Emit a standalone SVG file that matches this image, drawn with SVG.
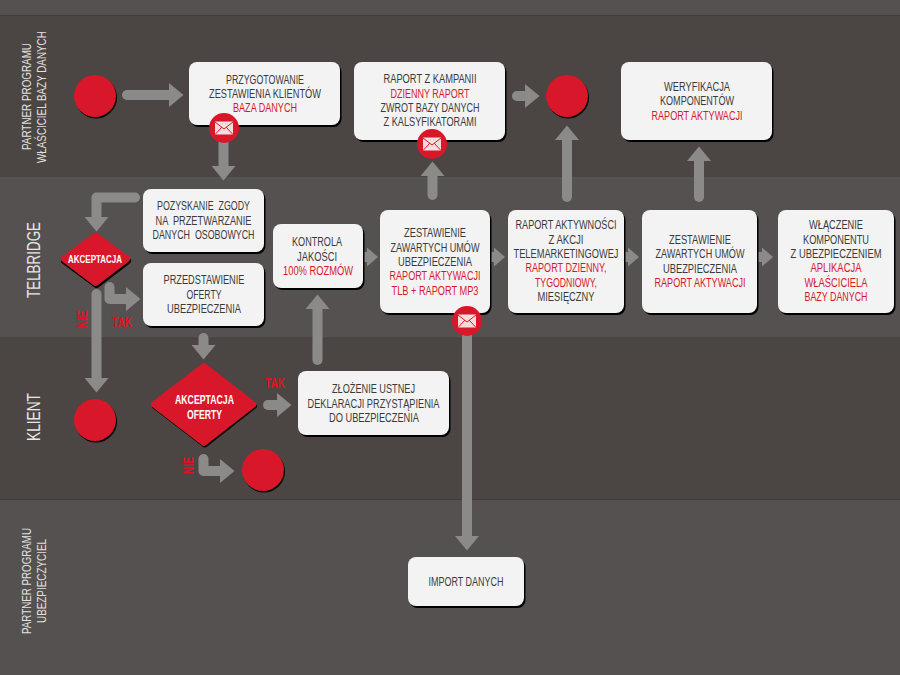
<svg xmlns="http://www.w3.org/2000/svg" xmlns:xlink="http://www.w3.org/1999/xlink" width="900" height="675" viewBox="0 0 900 675">
<style>
text{font-family:"Liberation Sans",Arial,sans-serif;text-anchor:middle}
.t{font-size:12.5px;fill:#3b3a3a}
.r{font-size:12.5px;fill:#d8182a}
.w{font-size:12.5px;fill:#fff;font-weight:700}
.l{font-size:13.5px;fill:#e2e0df;text-anchor:start}
.L{font-size:18.5px;fill:#e8e6e5;text-anchor:start}
.y{font-size:14.5px;fill:#e3101f;font-weight:700}
.b{fill:#f3f3f4}
.s{fill:#000}
.c{fill:#d8182a}
.a{fill:none;stroke:#8c8a89;stroke-width:10;stroke-linecap:round;stroke-linejoin:round}
.f{fill:#8c8a89}
.d{stroke:#d8182a;stroke-width:6;stroke-linejoin:round;fill:#d8182a}
.ds{stroke:#000;stroke-width:6;stroke-linejoin:round;fill:#000}
.e{fill:#f8dcdc}
.el{fill:none;stroke:#d8182a;stroke-width:1}
</style>
<defs>
<marker id="h" markerUnits="userSpaceOnUse" markerWidth="16" markerHeight="24" refX="0" refY="12" orient="auto"><path class="f" d="M0 0L14.500 12L0 24Z"/></marker>
<marker id="m" markerUnits="userSpaceOnUse" markerWidth="14" markerHeight="20" refX="0" refY="10" orient="auto"><path class="f" d="M0 0.500L11 10L0 19.500Z"/></marker>
<g id="env"><path class="e" d="M-9-6.500H9V6.500H-9Z"/><path class="el" d="M-9-6L0 1L9-6M-9 6.500L-2-1M9 6.500L2-1"/></g>
</defs>
<rect width="900" height="675" fill="#545150"/>
<g id="bands">
<rect y="0" width="900" height="15" fill="#545150"/>
<rect y="15" width="900" height="1.500" fill="#403c3a"/>
<rect y="16.500" width="900" height="161" fill="#4b4644"/>
<rect y="177.500" width="900" height="1" fill="#5d5a59"/>
<rect y="338" width="900" height="161" fill="#4b4644"/>
<rect y="337.500" width="900" height="1" fill="#444140"/>
<rect y="499" width="900" height="1" fill="#403d3b"/>
</g>
<g id="lanes">
<text class="l" transform="translate(31 150) rotate(-90)" textLength="107" lengthAdjust="spacingAndGlyphs">PARTNER PROGRAMU</text>
<text class="l" transform="translate(46 163) rotate(-90) scale(.78 1)" textLength="169" lengthAdjust="spacingAndGlyphs">WŁAŚCICIEL BAZY DANYCH</text>
<text class="L" transform="translate(40 298) rotate(-90)" textLength="76" lengthAdjust="spacingAndGlyphs">TELBRIDGE</text>
<text class="L" transform="translate(40 441) rotate(-90)" textLength="48" lengthAdjust="spacingAndGlyphs">KLIENT</text>
<text class="l" transform="translate(31 634) rotate(-90)" textLength="106" lengthAdjust="spacingAndGlyphs">PARTNER PROGRAMU</text>
<text class="l" transform="translate(46 623) rotate(-90)" textLength="84" lengthAdjust="spacingAndGlyphs">UBEZPIECZYCIEL</text>
</g>
<g id="connectors">
<path class="a" d="M127 95H169" marker-end="url(#h)"/>
<path class="a" stroke-linecap="butt" d="M223.500 140V166" marker-end="url(#h)"/>
<path class="a" d="M135 197.500H96.500V217" marker-end="url(#h)"/>
<path class="a" d="M96.500 294V378" marker-end="url(#h)"/>
<path class="a" d="M109.500 287V299H126" marker-end="url(#h)"/>
<path class="a" d="M203.500 338V345" marker-end="url(#h)"/>
<path class="a" d="M268 405H277" marker-end="url(#h)"/>
<path class="a" d="M203.500 459V471H220" marker-end="url(#h)"/>
<path class="a" d="M317.500 360V309" marker-end="url(#h)"/>
<path class="a" d="M432.500 195V176" marker-end="url(#h)"/>
<path class="a" d="M567 197V140" marker-end="url(#h)"/>
<path class="a" d="M517 96H525" marker-end="url(#h)"/>
<path class="a" d="M699 197V161" marker-end="url(#h)"/>
<path class="a" stroke-linecap="butt" d="M467 325V536" marker-end="url(#h)"/>
<path class="a" stroke-linecap="butt" d="M364 257H367" marker-end="url(#m)"/>
<path class="a" stroke-linecap="butt" d="M491 257H494" marker-end="url(#m)"/>
<path class="a" stroke-linecap="butt" d="M625 257H628" marker-end="url(#m)"/>
<path class="a" stroke-linecap="butt" d="M759 257H762" marker-end="url(#m)"/>
</g>
<g id="labels">
<text class="y" transform="translate(86.500 319) rotate(-90)" textLength="18" lengthAdjust="spacingAndGlyphs">NIE</text>
<text class="y" x="122" y="327" textLength="20" lengthAdjust="spacingAndGlyphs">TAK</text>
<text class="y" transform="translate(193 465.500) rotate(-90)" textLength="17" lengthAdjust="spacingAndGlyphs">NIE</text>
<text class="y" x="275" y="388" textLength="20" lengthAdjust="spacingAndGlyphs">TAK</text>
</g>
<g id="start1"><circle class="s" cx="96" cy="97.500" r="21"/><circle class="c" cx="95" cy="96" r="21"/></g>
<g id="n-przygotowanie"><rect class="s" x="190.500" y="64" width="151" height="63" rx="8"/><rect class="b" x="189" y="62" width="151" height="63" rx="8"/>
<text class="t" x="265" y="83.500" textLength="78" lengthAdjust="spacingAndGlyphs">PRZYGOTOWANIE</text>
<text class="t" x="265" y="98" textLength="112" lengthAdjust="spacingAndGlyphs">ZESTAWIENIA KLIENTÓW</text>
<text class="r" x="265" y="112" textLength="64" lengthAdjust="spacingAndGlyphs">BAZA DANYCH</text></g>
<g id="n-raport-kampanii"><rect class="s" x="355.500" y="64" width="151" height="78" rx="8"/><rect class="b" x="354" y="62" width="151" height="78" rx="8"/>
<text class="t" x="430" y="83" textLength="93" lengthAdjust="spacingAndGlyphs">RAPORT Z KAMPANII</text>
<text class="r" x="430" y="98" textLength="79" lengthAdjust="spacingAndGlyphs">DZIENNY RAPORT</text>
<text class="t" x="430" y="112" textLength="99" lengthAdjust="spacingAndGlyphs">ZWROT BAZY DANYCH</text>
<text class="t" x="430" y="126" textLength="93" lengthAdjust="spacingAndGlyphs">Z KALSYFIKATORAMI</text></g>
<g id="end1"><circle class="s" cx="568" cy="97.500" r="21"/><circle class="c" cx="567" cy="96" r="21"/></g>
<g id="n-weryfikacja"><rect class="s" x="622.500" y="64" width="151" height="78" rx="8"/><rect class="b" x="621" y="62" width="151" height="78" rx="8"/>
<text class="t" x="697" y="91" textLength="66" lengthAdjust="spacingAndGlyphs">WERYFIKACJA</text>
<text class="t" x="697" y="105" textLength="74" lengthAdjust="spacingAndGlyphs">KOMPONENTÓW</text>
<text class="r" x="697" y="120" textLength="91" lengthAdjust="spacingAndGlyphs">RAPORT AKTYWACJI</text></g>
<g id="n-pozyskanie"><rect class="s" x="144.500" y="191" width="121" height="63" rx="8"/><rect class="b" x="143" y="189" width="121" height="63" rx="8"/>
<text class="t" x="203.500" y="210" textLength="93" lengthAdjust="spacingAndGlyphs" xml:space="preserve">POZYSKANIE  ZGODY</text>
<text class="t" x="203.500" y="225" textLength="96" lengthAdjust="spacingAndGlyphs" xml:space="preserve">NA  PRZETWARZANIE</text>
<text class="t" x="203.500" y="239" textLength="102" lengthAdjust="spacingAndGlyphs" xml:space="preserve">DANYCH  OSOBOWYCH</text></g>
<g id="n-akceptacja"><path class="ds" d="M96.500 237L128 261L96.500 285L64 261Z"/><path class="d" d="M95.500 235.500L127 259L95.500 283L64 259Z"/>
<text class="w" x="95" y="263" style="font-size:11px" textLength="54" lengthAdjust="spacingAndGlyphs">AKCEPTACJA</text></g>
<g id="n-przedstawienie"><rect class="s" x="144.500" y="265" width="121" height="63" rx="8"/><rect class="b" x="143" y="263" width="121" height="63" rx="8"/>
<text class="t" x="204" y="284" textLength="81" lengthAdjust="spacingAndGlyphs">PRZEDSTAWIENIE</text>
<text class="t" x="204" y="298.500" textLength="35" lengthAdjust="spacingAndGlyphs">OFERTY</text>
<text class="t" x="204" y="313" textLength="74" lengthAdjust="spacingAndGlyphs">UBEZPIECZENIA</text></g>
<g id="n-kontrola"><rect class="s" x="274.500" y="226" width="90" height="64" rx="8"/><rect class="b" x="273" y="224" width="90" height="64" rx="8"/>
<text class="t" x="317" y="246" textLength="50" lengthAdjust="spacingAndGlyphs">KONTROLA</text>
<text class="t" x="317" y="260.500" textLength="40" lengthAdjust="spacingAndGlyphs">JAKOŚCI</text>
<text class="r" x="318" y="275" textLength="70" lengthAdjust="spacingAndGlyphs">100% ROZMÓW</text></g>
<g id="n-zestawienie1"><rect class="s" x="381.500" y="212" width="110" height="103" rx="8"/><rect class="b" x="380" y="210" width="110" height="103" rx="8"/>
<text class="t" x="435" y="237" textLength="62" lengthAdjust="spacingAndGlyphs">ZESTAWIENIE</text>
<text class="t" x="435" y="252" textLength="89" lengthAdjust="spacingAndGlyphs">ZAWARTYCH UMÓW</text>
<text class="t" x="435" y="266" textLength="74" lengthAdjust="spacingAndGlyphs">UBEZPIECZENIA</text>
<text class="r" x="435" y="280" textLength="91" lengthAdjust="spacingAndGlyphs">RAPORT AKTYWACJI</text>
<text class="r" x="435" y="295" textLength="87" lengthAdjust="spacingAndGlyphs">TLB + RAPORT MP3</text></g>
<g id="n-raport-aktywnosci"><rect class="s" x="509.500" y="212" width="116" height="103" rx="8"/><rect class="b" x="508" y="210" width="116" height="103" rx="8"/>
<text class="t" x="566" y="229" textLength="101" lengthAdjust="spacingAndGlyphs">RAPORT AKTYWNOŚCI</text>
<text class="t" x="566" y="244" textLength="35" lengthAdjust="spacingAndGlyphs">Z AKCJI</text>
<text class="t" x="566" y="258" textLength="105" lengthAdjust="spacingAndGlyphs">TELEMARKETINGOWEJ</text>
<text class="r" x="566" y="272" textLength="81" lengthAdjust="spacingAndGlyphs">RAPORT DZIENNY,</text>
<text class="r" x="566" y="287" textLength="62" lengthAdjust="spacingAndGlyphs">TYGODNIOWY,</text>
<text class="t" x="566" y="301" textLength="57" lengthAdjust="spacingAndGlyphs">MIESIĘCZNY</text></g>
<g id="n-zestawienie2"><rect class="s" x="643.500" y="212" width="115" height="103" rx="8"/><rect class="b" x="642" y="210" width="115" height="103" rx="8"/>
<text class="t" x="700" y="244" textLength="62" lengthAdjust="spacingAndGlyphs">ZESTAWIENIE</text>
<text class="t" x="700" y="258" textLength="89" lengthAdjust="spacingAndGlyphs">ZAWARTYCH UMÓW</text>
<text class="t" x="700" y="273" textLength="74" lengthAdjust="spacingAndGlyphs">UBEZPIECZENIA</text>
<text class="r" x="700" y="287" textLength="91" lengthAdjust="spacingAndGlyphs">RAPORT AKTYWACJI</text></g>
<g id="n-wlaczenie"><rect class="s" x="779.500" y="212" width="116" height="103" rx="8"/><rect class="b" x="778" y="210" width="116" height="103" rx="8"/>
<text class="t" x="836" y="229" textLength="54" lengthAdjust="spacingAndGlyphs">WŁĄCZENIE</text>
<text class="t" x="836" y="244" textLength="66" lengthAdjust="spacingAndGlyphs">KOMPONENTU</text>
<text class="t" transform="translate(836 258) scale(.75 1)" textLength="121.300" lengthAdjust="spacingAndGlyphs">Z UBEZPIECZENIEM</text>
<text class="r" x="836" y="272" textLength="51" lengthAdjust="spacingAndGlyphs">APLIKACJA</text>
<text class="r" x="836" y="287" textLength="63" lengthAdjust="spacingAndGlyphs">WŁAŚCICIELA</text>
<text class="r" x="836" y="301" textLength="63" lengthAdjust="spacingAndGlyphs">BAZY DANYCH</text></g>
<g id="end2"><circle class="s" cx="96" cy="421.500" r="21"/><circle class="c" cx="95" cy="420" r="21"/></g>
<g id="n-akceptacja-oferty"><path class="ds" d="M205 367.500L254 406L205 444.500L155 406Z"/><path class="d" d="M204 366L253.500 404.500L204 443L154 404.500Z"/>
<text class="w" x="204.500" y="404" textLength="59" lengthAdjust="spacingAndGlyphs">AKCEPTACJA</text>
<text class="w" x="204.500" y="419" textLength="35" lengthAdjust="spacingAndGlyphs">OFERTY</text></g>
<g id="end3"><circle class="s" cx="264" cy="471.500" r="21"/><circle class="c" cx="263" cy="470" r="21"/></g>
<g id="n-zlozenie"><rect class="s" x="299.500" y="373" width="151" height="64" rx="8"/><rect class="b" x="298" y="371" width="151" height="64" rx="8"/>
<text class="t" x="373.500" y="393" textLength="83" lengthAdjust="spacingAndGlyphs">ZŁOŻENIE USTNEJ</text>
<text class="t" x="373.500" y="408" textLength="132" lengthAdjust="spacingAndGlyphs">DEKLARACJI PRZYSTĄPIENIA</text>
<text class="t" x="374" y="422" textLength="90" lengthAdjust="spacingAndGlyphs">DO UBEZPIECZENIA</text></g>
<g id="n-import"><rect class="s" x="409.500" y="559" width="116" height="49" rx="8"/><rect class="b" x="408" y="557" width="116" height="49" rx="8"/>
<text class="t" x="466" y="586" textLength="75" lengthAdjust="spacingAndGlyphs">IMPORT DANYCH</text></g>
<g id="mail1"><circle class="c" cx="224" cy="128" r="15"/><use xlink:href="#env" href="#env" x="224" y="128"/></g>
<g id="mail2"><circle class="c" cx="432" cy="144" r="15"/><use xlink:href="#env" href="#env" x="432" y="144"/></g>
<g id="mail3"><circle class="c" cx="467" cy="321" r="15"/><use xlink:href="#env" href="#env" x="467" y="321"/></g>
</svg>
